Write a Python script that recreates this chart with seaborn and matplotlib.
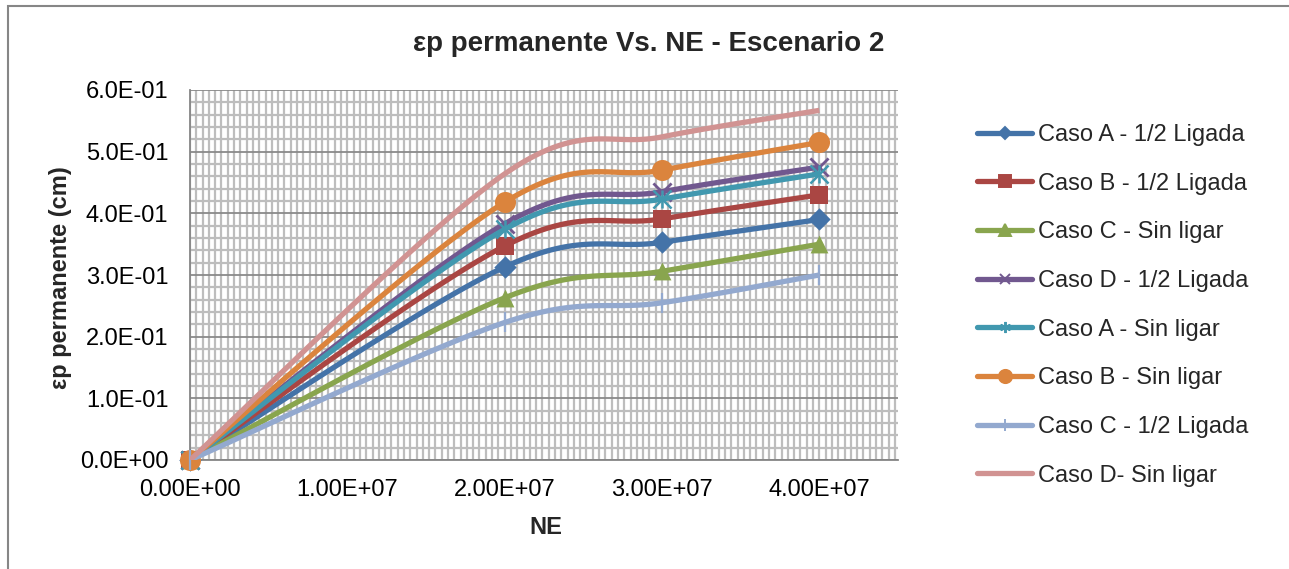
import numpy as np
import pandas as pd
import matplotlib
matplotlib.use("Agg")
import matplotlib.pyplot as plt
import seaborn as sns
from matplotlib.lines import Line2D
from matplotlib.patches import Rectangle
from matplotlib.ticker import MultipleLocator, FuncFormatter

# ---- data ----
ne = [0.0, 2.0e7, 3.0e7, 4.0e7]

series_names = [
    "Caso A - 1/2 Ligada",
    "Caso B - 1/2 Ligada",
    "Caso C - Sin ligar",
    "Caso D - 1/2 Ligada",
    "Caso A - Sin ligar",
    "Caso B - Sin ligar",
    "Caso C - 1/2 Ligada",
    "Caso D- Sin ligar",
]
caso_a_ligada = [0.0, 0.313, 0.353, 0.390]
caso_b_ligada = [0.0, 0.347, 0.391, 0.430]
caso_c_sin = [0.0, 0.263, 0.306, 0.350]
caso_d_ligada = [0.0, 0.383, 0.435, 0.475]
caso_a_sin = [0.0, 0.374, 0.423, 0.464]
caso_b_sin = [0.0, 0.418, 0.470, 0.515]
caso_c_ligada = [0.0, 0.223, 0.255, 0.300]
caso_d_sin = [0.0, 0.464, 0.524, 0.567]

series_values = [caso_a_ligada, caso_b_ligada, caso_c_sin, caso_d_ligada,
                 caso_a_sin, caso_b_sin, caso_c_ligada, caso_d_sin]

colors = ["#4473A8", "#AA4643", "#89A54E", "#71588F",
          "#4198AF", "#DB843D", "#93A9CF", "#D19392"]

# ---- style ----
sns.set_theme(style="white")
plt.rcParams["font.family"] = ["Liberation Sans", "DejaVu Sans"]

W, H = 1289, 569
fig = plt.figure(figsize=(W / 100, H / 100), dpi=100)
ax = fig.add_axes([190 / W, 1 - 460 / H, (898 - 190) / W, (460 - 90) / H])

XMAX, YMAX = 4.5e7, 0.6
# screen scale used for the smoothed curves (pixels per data unit)
SX = (898 - 190) / XMAX
SY = (460 - 90) / YMAX


def smooth_curve(xs, ys, n=40):
    """Cubic Bezier smoothing through every point (Catmull-Rom tangents)."""
    P = np.column_stack([np.asarray(xs) * SX, np.asarray(ys) * SY])
    out = [P[0]]
    t = np.linspace(0, 1, n)[1:, None]
    for i in range(len(P) - 1):
        p0 = P[i - 1] if i > 0 else P[i]
        p1, p2 = P[i], P[i + 1]
        p3 = P[i + 2] if i + 2 < len(P) else P[i + 1]
        c1 = p1 + (p2 - p0) / 6.0
        c2 = p2 - (p3 - p1) / 6.0
        seg = ((1 - t) ** 3) * p1 + 3 * ((1 - t) ** 2) * t * c1 \
            + 3 * (1 - t) * (t ** 2) * c2 + (t ** 3) * p2
        out.extend(seg)
    out = np.array(out)
    return out[:, 0] / SX, out[:, 1] / SY


# marker specs: (marker, size s, linewidth, filled)
marker_specs = [
    ("D", 130, 0, True),
    ("s", 175, 0, True),
    ("^", 165, 0, True),
    ("x", 170, 2.0, False),
    (None, 0, 0, False),      # asterisk drawn as x + |
    ("o", 230, 0, True),
    ("|", 200, 1.6, False),
    (None, 0, 0, False),
]

LW = 3.8
handles = []
for k, (name, vals, col) in enumerate(zip(series_names, series_values, colors)):
    cx, cy = smooth_curve(ne, vals)
    curve = pd.DataFrame({"NE": cx, "ep": cy})
    sns.lineplot(data=curve, x="NE", y="ep", sort=False, estimator=None,
                 color=col, linewidth=LW, ax=ax, zorder=3 + k * 0.1,
                 solid_capstyle="butt")
    pts = pd.DataFrame({"NE": ne, "ep": vals})
    mk, s, lw, filled = marker_specs[k]
    if k == 4:
        for m in ("x", "|"):
            sns.scatterplot(data=pts, x="NE", y="ep", marker=m, s=170,
                            color=col, linewidth=1.8, ax=ax,
                            zorder=3.05 + k * 0.1, clip_on=False)
        hmark, hsize, hmew = (6, 2, 0), 8, 1.4
    elif mk is not None:
        if filled:
            sns.scatterplot(data=pts, x="NE", y="ep", marker=mk, s=s,
                            color=col, edgecolor=col, linewidth=0, ax=ax,
                            zorder=3.05 + k * 0.1, clip_on=False)
        else:
            sns.scatterplot(data=pts, x="NE", y="ep", marker=mk, s=s,
                            color=col, linewidth=lw, ax=ax,
                            zorder=3.05 + k * 0.1, clip_on=False)
        hmark = mk
        hsize = {"D": 6.5, "s": 8.5, "^": 8.5, "x": 7, "o": 9.5, "|": 9}[mk]
        hmew = 1.4
    else:
        hmark, hsize, hmew = None, 0, 0
    handles.append(Line2D([], [], color=col, linewidth=LW, marker=hmark,
                          markersize=hsize, markeredgewidth=hmew,
                          markeredgecolor=col, markerfacecolor=col,
                          label=name))

# ---- axes ----
ax.set_xlim(0, XMAX)
ax.set_ylim(0, YMAX)
ax.xaxis.set_major_locator(MultipleLocator(1e7))
ax.xaxis.set_minor_locator(MultipleLocator(4e5))
ax.yaxis.set_major_locator(MultipleLocator(0.1))
ax.yaxis.set_minor_locator(MultipleLocator(0.02))
ax.xaxis.set_major_formatter(FuncFormatter(lambda v, p: f"{v:.2E}"))
ax.yaxis.set_major_formatter(FuncFormatter(lambda v, p: f"{v:.1E}"))
ax.set_xlabel("")
ax.set_ylabel("")

ax.grid(which="minor", axis="both", color="#BDBDBD", linewidth=1.6)
ax.grid(which="major", axis="x", color="#BDBDBD", linewidth=1.6)
ax.grid(which="major", axis="y", color="#8A8A8A", linewidth=1.3)
ax.set_axisbelow(True)

for side in ("top", "right"):
    ax.spines[side].set_visible(False)
for side in ("left", "bottom"):
    ax.spines[side].set_color("#868686")
    ax.spines[side].set_linewidth(1.3)

ax.tick_params(axis="both", which="both", length=0, labelsize=17,
               labelcolor="black")
ax.tick_params(axis="y", pad=15.5)
ax.tick_params(axis="x", pad=14)

# ---- texts ----
fig.text(0.503, 1 - 44 / H, "εp permanente Vs. NE - Escenario 2",
         ha="center", va="center", fontsize=20, fontweight="bold")
fig.text(60 / W, 1 - 278 / H, "εp permanente (cm)", rotation=90,
         ha="center", va="center", fontsize=17, fontweight="bold")
fig.text(546 / W, 1 - 527 / H, "NE", ha="center", va="center",
         fontsize=17, fontweight="bold")

fig.legend(handles=handles, loc="upper left",
           bbox_to_anchor=(977 / W, 1 - 124 / H), frameon=False,
           fontsize=17, labelspacing=1.13, handlelength=2.35,
           handletextpad=0.22, borderpad=0, borderaxespad=0)

# chart frame
fig.patches.append(Rectangle((8 / W, -0.2), 1.5, 1.2 - 6 / H,
                             transform=fig.transFigure, fill=False,
                             edgecolor="#868686", linewidth=1.5))

fig.savefig("out.png", dpi=100, facecolor="white")
